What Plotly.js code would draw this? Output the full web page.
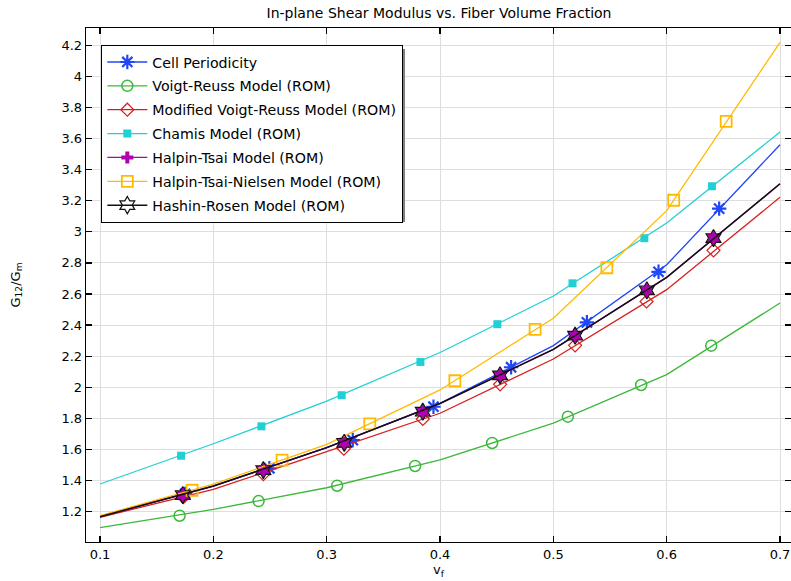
<!DOCTYPE html>
<html>
<head>
<meta charset="utf-8">
<script src="https://cdn.plot.ly/plotly-3.0.1.min.js"></script>
<style>html,body{margin:0;padding:0;background:#fff;}#chart{width:791px;height:581px;}</style>
</head>
<body>
<div id="chart"></div>
<script>
// Fiber volume fraction at the polyline vertices
const vf = [0.1, 0.2, 0.3, 0.4, 0.5, 0.6, 0.7];

// Line values (G12/Gm) at vf
const cellLine     = [1.168, 1.365, 1.612, 1.897, 2.268, 2.788, 3.560];
const voigtLine    = [1.097, 1.215, 1.354, 1.533, 1.769, 2.082, 2.542];
const modVoigtLine = [1.164, 1.344, 1.586, 1.833, 2.182, 2.628, 3.222];
const chamisLine   = [1.378, 1.637, 1.911, 2.224, 2.587, 3.057, 3.642];
const htLine       = [1.168, 1.365, 1.612, 1.896, 2.244, 2.707, 3.309];
const htnLine      = [1.174, 1.378, 1.633, 1.983, 2.444, 3.136, 4.219];
const hashinLine   = [1.168, 1.365, 1.612, 1.896, 2.244, 2.707, 3.309];

// Marker positions
const cellMx   = [0.175, 0.2494, 0.3230, 0.3942, 0.4627, 0.5296, 0.5928, 0.6463];
const cellMy   = [1.314, 1.479, 1.661, 1.875, 2.129, 2.418, 2.743, 3.149];
const voigtMx  = [0.1702, 0.2399, 0.3092, 0.3780, 0.4460, 0.5128, 0.5775, 0.6393];
const voigtMy  = [1.174, 1.268, 1.367, 1.494, 1.642, 1.811, 2.015, 2.268];
const modMx    = [0.1735, 0.2441, 0.3151, 0.3848, 0.4530, 0.5192, 0.5822, 0.6413];
const modMy    = [1.293, 1.442, 1.605, 1.796, 2.019, 2.270, 2.552, 2.881];
const chamisMx = [0.1715, 0.2424, 0.3132, 0.3827, 0.4506, 0.5169, 0.5803, 0.6399];
const chamisMy = [1.560, 1.749, 1.949, 2.163, 2.406, 2.669, 2.959, 3.293];
const htMx     = [0.1730, 0.2441, 0.3155, 0.3848, 0.4530, 0.5192, 0.5825, 0.6413];
const htMy     = [1.307, 1.468, 1.643, 1.843, 2.077, 2.332, 2.624, 2.960];
const htnMx    = [0.1812, 0.2606, 0.3380, 0.4131, 0.4839, 0.5472, 0.6062, 0.6525];
const htnMy    = [1.338, 1.532, 1.765, 2.042, 2.373, 2.769, 3.203, 3.711];
const hashinMx = [0.1730, 0.2441, 0.3155, 0.3848, 0.4530, 0.5192, 0.5825, 0.6413];
const hashinMy = [1.307, 1.468, 1.643, 1.843, 2.077, 2.332, 2.624, 2.960];

const seriesNames = [
  'Cell Periodicity',
  'Voigt-Reuss Model (ROM)',
  'Modified Voigt-Reuss Model (ROM)',
  'Chamis Model (ROM)',
  'Halpin-Tsai Model (ROM)',
  'Halpin-Tsai-Nielsen Model (ROM)',
  'Hashin-Rosen Model (ROM)'
];

const xTicks = [0.1, 0.2, 0.3, 0.4, 0.5, 0.6, 0.7];
const yTicks = [1.2, 1.4, 1.6, 1.8, 2, 2.2, 2.4, 2.6, 2.8, 3, 3.2, 3.4, 3.6, 3.8, 4, 4.2];

const styles = [
  {color: '#2046f5', symbol: 'asterisk-open', size: 12, mlw: 2.2, lw: 1.3, fill: '#2046f5'},
  {color: '#3cb83c', symbol: 'circle-open', size: 11, mlw: 1.5, lw: 1.3, fill: '#3cb83c'},
  {color: '#d81f1f', symbol: 'diamond-open', size: 10, mlw: 1.2, lw: 1.3, fill: '#d81f1f'},
  {color: '#22cfd2', symbol: 'square', size: 8, mlw: 0, lw: 1.3, fill: '#22cfd2'},
  {color: '#b000b0', symbol: 'cross', size: 10, mlw: 0, lw: 1.3, fill: '#b000b0'},
  {color: '#ffba00', symbol: 'square-open', size: 11, mlw: 1.8, lw: 1.3, fill: '#ffba00'},
  {color: '#111111', symbol: 'hexagram-open', size: 13, mlw: 1.2, lw: 1.5, fill: '#111111'}
];

const lines = [cellLine, voigtLine, modVoigtLine, chamisLine, htLine, htnLine, hashinLine];
const mxs = [cellMx, voigtMx, modMx, chamisMx, htMx, htnMx, hashinMx];
const mys = [cellMy, voigtMy, modMy, chamisMy, htMy, htnMy, hashinMy];

const traces = [];
for (let i = 0; i < lines.length; i++) {
  const s = styles[i];
  const marker = {symbol: s.symbol, size: s.size, color: s.fill, line: {color: s.color, width: s.mlw}};
  traces.push({x: vf, y: lines[i], mode: 'lines', line: {color: s.color, width: s.lw},
    legendgroup: 'g' + i, showlegend: false, hoverinfo: 'skip'});
  if (i === 4) {
    // Halpin-Tsai marker: magenta filled star under the Hashin outline
    traces.push({x: mxs[i], y: mys[i], mode: 'markers',
      marker: {symbol: 'hexagram', size: 12, color: s.color, line: {width: 0}},
      legendgroup: 'g' + i, showlegend: false});
  } else {
    traces.push({x: mxs[i], y: mys[i], mode: 'markers', marker: marker,
      legendgroup: 'g' + i, showlegend: false});
  }
  traces.push({x: [null], y: [null], mode: 'lines+markers', name: seriesNames[i],
    line: {color: s.color, width: s.lw}, marker: marker, legendgroup: 'g' + i, showlegend: true});
}

const layout = {
  width: 791, height: 581,
  margin: {l: 86, r: 0, t: 28, b: 39, pad: 0},
  paper_bgcolor: '#fff', plot_bgcolor: '#fff',
  font: {family: 'DejaVu Sans, sans-serif', size: 13, color: '#000'},
  title: {text: 'In-plane Shear Modulus vs. Fiber Volume Fraction',
    font: {family: 'DejaVu Sans, sans-serif', size: 14, color: '#000'},
    x: 0.555, xanchor: 'center', y: 0.977, yanchor: 'middle'},
  xaxis: {
    range: [0.0876, 0.7097], tickvals: xTicks, ticktext: xTicks.map(String),
    ticks: 'inside', ticklen: 6, tickcolor: '#000', tickwidth: 1.3,
    showline: true, linecolor: '#000', linewidth: 1.3, mirror: 'ticks',
    showgrid: true, gridcolor: '#dedede', gridwidth: 1, zeroline: false,
    tickfont: {family: 'DejaVu Sans, sans-serif', size: 13, color: '#000'},
    title: {text: 'v<sub>f</sub>', standoff: 2, font: {family: 'DejaVu Sans, sans-serif', size: 13, color: '#000'}}
  },
  yaxis: {
    range: [1.005, 4.311], tickvals: yTicks, ticktext: yTicks.map(String),
    ticks: 'inside', ticklen: 6, tickcolor: '#000', tickwidth: 1.3,
    showline: true, linecolor: '#000', linewidth: 1.3, mirror: 'ticks',
    showgrid: true, gridcolor: '#dedede', gridwidth: 1, zeroline: false,
    tickfont: {family: 'DejaVu Sans, sans-serif', size: 13, color: '#000'},
    title: {text: 'G<sub>12</sub>/G<sub>m</sub>', standoff: 38, font: {family: 'DejaVu Sans, sans-serif', size: 13, color: '#000'}}
  },
  legend: {
    x: 0.0213, y: 0.967, xanchor: 'left', yanchor: 'top',
    bgcolor: '#fff', bordercolor: '#000', borderwidth: 1.3,
    font: {family: 'DejaVu Sans, sans-serif', size: 14.2, color: '#000'},
    tracegroupgap: 2.4, itemwidth: 40, traceorder: 'grouped'
  },
  shapes: [{
    type: 'rect', xref: 'paper', yref: 'paper', layer: 'above',
    x0: 0.0265, x1: 0.4525, y0: 0.6226, y1: 0.959,
    fillcolor: '#808080', line: {width: 0}
  }],
  showlegend: true
};

Plotly.newPlot('chart', traces, layout, {displayModeBar: false, staticPlot: true});
</script>
</body>
</html>
